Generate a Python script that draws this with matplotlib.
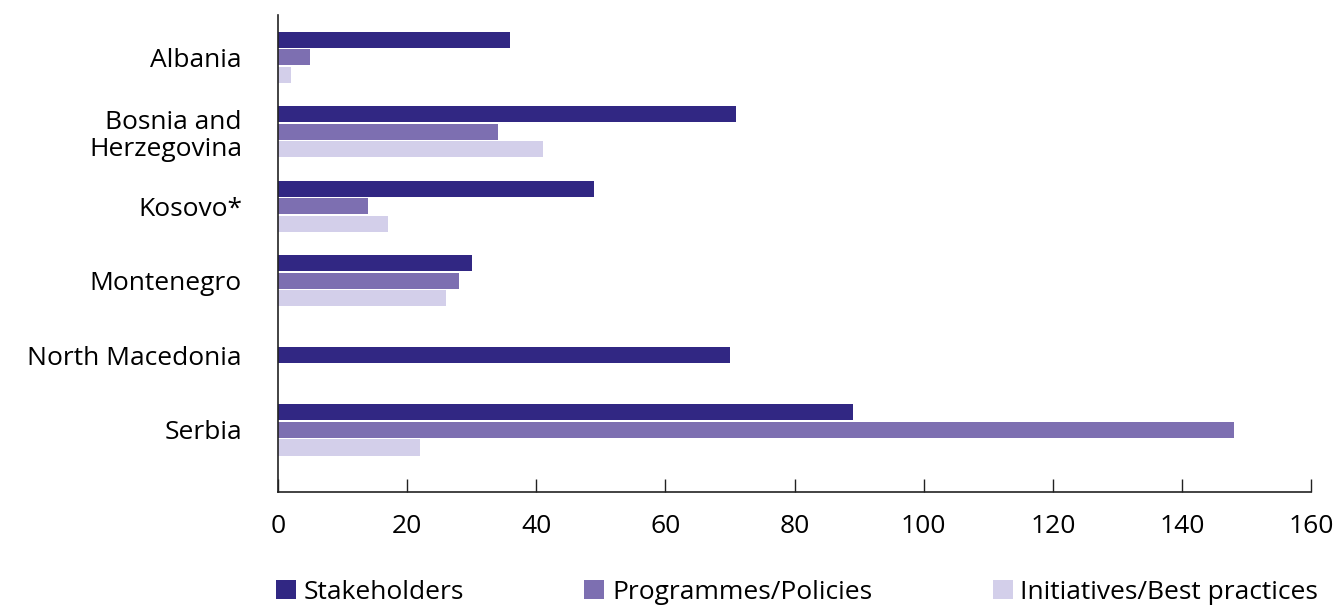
import numpy as np
import matplotlib.pyplot as plt
from matplotlib.patches import Patch

# data
countries = ['Albania', 'Bosnia and\nHerzegovina', 'Kosovo*', 'Montenegro', 'North Macedonia', 'Serbia']
series = ['Stakeholders', 'Programmes/Policies', 'Initiatives/Best practices']
stakeholders = [36, 71, 49, 30, 70, 89]
programmes = [5, 34, 14, 28, np.nan, 148]
initiatives = [2, 41, 17, 26, np.nan, 22]
x_ticks = [0, 20, 40, 60, 80, 100, 120, 140, 160]

colors = ['#312783', '#7d6fb1', '#d3cfea']

plt.rcParams['font.family'] = ['Open Sans', 'DejaVu Sans']


def main():
    values = [stakeholders, programmes, initiatives]
    fig = plt.figure(figsize=(13.33, 6.05), dpi=100)
    ax = fig.add_axes([0.2086, 0.187, 0.7749, 0.788])

    bar_h = 0.215
    step = 0.235
    for i in range(len(countries)):
        # only series with a value get a slot, centred on the category
        present = [k for k in range(len(series)) if not np.isnan(values[k][i])]
        n = len(present)
        for j, k in enumerate(present):
            offset = (j - (n - 1) / 2) * step
            ax.barh(i + offset, values[k][i], height=bar_h, color=colors[k], linewidth=0)

    ax.set_xlim(0, 160)
    ax.set_ylim(5.83, -0.563)
    ax.set_yticks(range(len(countries)))
    ax.set_yticklabels(countries, fontsize=19, linespacing=1.1)
    ax.set_xticks(x_ticks)
    ax.set_xticklabels([str(t) for t in x_ticks], fontsize=19)
    ax.tick_params(axis='y', length=0, pad=26)
    ax.tick_params(axis='x', direction='in', length=9.5, width=1, color='#222222', pad=16)
    for side in ['top', 'right']:
        ax.spines[side].set_visible(False)
    for side in ['left', 'bottom']:
        ax.spines[side].set_color('#222222')
        ax.spines[side].set_linewidth(1.2)

    handles = [Patch(facecolor=c, edgecolor='none', label=s) for c, s in zip(colors, series)]
    fig.legend(handles=handles, bbox_to_anchor=(0.207, 0.0, 0.782, 0.05), loc='lower left',
               ncol=3, mode='expand', frameon=False, fontsize=19, borderaxespad=0.,
               handlelength=0.75, handleheight=0.75, handletextpad=0.3, borderpad=0.)

    fig.savefig('out.png', dpi=100)


if __name__ == '__main__':
    main()
